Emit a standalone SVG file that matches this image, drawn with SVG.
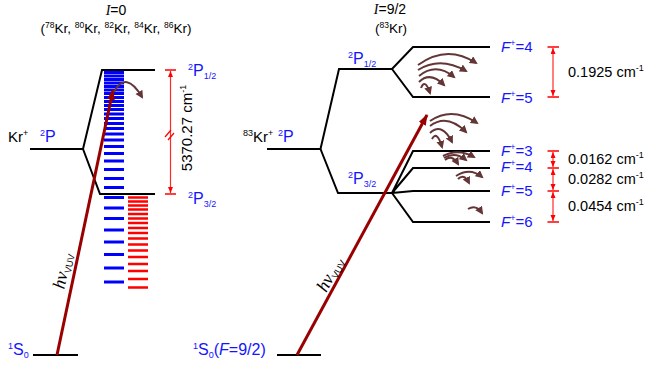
<svg xmlns="http://www.w3.org/2000/svg" width="648" height="368" viewBox="0 0 648 368">
<defs>
<style>
text{font-family:"Liberation Sans",Arial,sans-serif;}
.blk{fill:#000;}
.blu{fill:#1414ff;}
.lvl{stroke:#000;stroke-width:2;fill:none;}
.bl{stroke:#0000ff;stroke-width:3;}
.rd{stroke:#ff0000;stroke-width:2.5;}
.dim{stroke:#ff2a2a;stroke-width:1.2;fill:none;marker-start:url(#rh);marker-end:url(#rh);}
.bar{stroke:#ff0000;stroke-width:1.6;}
.las{stroke:#990000;stroke-width:3;fill:none;marker-end:url(#lh);}
.arc{stroke:#633535;stroke-width:2;fill:none;marker-end:url(#ah);}
</style>
<marker id="rh" markerUnits="userSpaceOnUse" markerWidth="7" markerHeight="6" refX="6" refY="2.5" orient="auto-start-reverse"><path d="M0,0 L6,2.5 L0,5 z" fill="#ff0000"/></marker>
<marker id="lh" markerUnits="userSpaceOnUse" markerWidth="12" markerHeight="10" refX="10" refY="4" orient="auto"><path d="M0,0 L11,4 L0,8 z" fill="#990000"/></marker>
<marker id="ah" markerUnits="userSpaceOnUse" markerWidth="10" markerHeight="9" refX="6" refY="4" orient="auto"><path d="M0,0 L8,4 L0,8 z" fill="#633535"/></marker>
</defs>
<rect width="648" height="368" fill="#fff"/>

<!-- headers -->
<g id="hdr-left">
<text x="116" y="15" text-anchor="middle" font-size="14" class="blk"><tspan font-family="Liberation Serif" font-style="italic">I</tspan>=0</text>
<text x="116" y="33" text-anchor="middle" font-size="13.5" class="blk">(<tspan font-size="8.5" dy="-5">78</tspan><tspan dy="5">Kr, </tspan><tspan font-size="8.5" dy="-5">80</tspan><tspan dy="5">Kr, </tspan><tspan font-size="8.5" dy="-5">82</tspan><tspan dy="5">Kr, </tspan><tspan font-size="8.5" dy="-5">84</tspan><tspan dy="5">Kr, </tspan><tspan font-size="8.5" dy="-5">86</tspan><tspan dy="5">Kr)</tspan></text>
</g>
<g id="hdr-right">
<text x="390" y="14" text-anchor="middle" font-size="14" class="blk"><tspan font-family="Liberation Serif" font-style="italic">I</tspan>=9/2</text>
<text x="391" y="33" text-anchor="middle" font-size="13.5" class="blk">(<tspan font-size="8.5" dy="-5">83</tspan><tspan dy="5">Kr)</tspan></text>
</g>

<!-- left levels -->
<g id="left-levels">
<path class="lvl" d="M30,149 H83 L102,70 H155 M83,149 L100,194 H155"/>
<path class="lvl" d="M33,355 H78"/>
<text x="8" y="142" font-size="15" class="blk">Kr<tspan font-size="9" dy="-6">+</tspan></text>
<text x="40" y="142" font-size="16" class="blu"><tspan font-size="9" dy="-6">2</tspan><tspan dy="6">P</tspan></text>
<text x="188" y="76" font-size="16" class="blu"><tspan font-size="9" dy="-6">2</tspan><tspan dy="6">P</tspan><tspan font-size="9" dy="3">1/2</tspan></text>
<text x="188" y="204" font-size="16" class="blu"><tspan font-size="9" dy="-6">2</tspan><tspan dy="6">P</tspan><tspan font-size="9" dy="3">3/2</tspan></text>
<text x="8" y="355" font-size="16" class="blu"><tspan font-size="9" dy="-6">1</tspan><tspan dy="6">S</tspan><tspan font-size="9" dy="3">0</tspan></text>
</g>

<g id="blue-ladder">
<path class="bl" d="M104,72.5H124M104,76H124M104,79.5H124M104,83H124M104,86.5H124M104,90H124M104,93.5H124M104,97.5H124M104,101.5H124M104,105.5H124M104,109.5H124M104,114H124M104,118.5H124M104,123.5H124M104,128.5H124M104,134H124M104,140H124M104,146.5H124M104,153.5H124M104,161H124M104,169.5H124M104,178.5H124M104,187.5H124M104,197.5H124M104,208H124M104,218.5H124M104,230H124M104,242H124M104,254.5H124M104,268H124M104,282H124"/>
</g>
<g id="red-ladder">
<path class="rd" d="M128,197.5H148M128,201.5H148M128,205.5H148M128,209.5H148M128,214H148M128,218.5H148M128,223H148M128,228H148M128,233H148M128,238.5H148M128,244.5H148M128,250.5H148M128,257H148M128,264H148M128,271H148M128,279H148M128,287.5H148"/>
</g>

<g id="left-dim">
<path class="bar" d="M165,70H176M165,194H176"/>
<path class="dim" d="M170.5,71V193"/>
<path stroke="#ff0000" stroke-width="1.2" d="M165,137L171,130M168,140L174,133"/>
<text transform="translate(192,128) rotate(-90)" text-anchor="middle" font-size="15" class="blk">5370.27 cm<tspan font-size="9" dy="-6">-1</tspan></text>
</g>

<!-- right levels -->
<g id="right-levels">
<path class="lvl" d="M267,149 H320.5 L339,69 H392 L413,47 H490 M392,69 L413,97 H490"/>
<path class="lvl" d="M320.5,149 L338,193 H392 L413,151 H490 M392,193 L413,168 H490 M392,193 L413,191 H490 M392,193 L413,222 H490"/>
<path class="lvl" d="M277,355 H321"/>
<text x="243" y="142" font-size="15" class="blk"><tspan font-size="9" dy="-6">83</tspan><tspan dy="6">Kr</tspan><tspan font-size="9" dy="-6">+</tspan></text>
<text x="278" y="142" font-size="16" class="blu"><tspan font-size="9" dy="-6">2</tspan><tspan dy="6">P</tspan></text>
<text x="348" y="64" font-size="16" class="blu"><tspan font-size="9" dy="-6">2</tspan><tspan dy="6">P</tspan><tspan font-size="9" dy="3">1/2</tspan></text>
<text x="348" y="184" font-size="16" class="blu"><tspan font-size="9" dy="-6">2</tspan><tspan dy="6">P</tspan><tspan font-size="9" dy="3">3/2</tspan></text>
<text x="193" y="355" font-size="16" class="blu"><tspan font-size="9" dy="-6">1</tspan><tspan dy="6">S</tspan><tspan font-size="9" dy="3">0</tspan><tspan dy="-3">(</tspan><tspan font-style="italic">F</tspan>=9/2)</text>
</g>

<g id="F-labels" font-size="15">
<text x="501" y="52" class="blu"><tspan font-style="italic">F</tspan><tspan font-size="9" dy="-6">+</tspan><tspan dy="6">=4</tspan></text>
<text x="501" y="103" class="blu"><tspan font-style="italic">F</tspan><tspan font-size="9" dy="-6">+</tspan><tspan dy="6">=5</tspan></text>
<text x="501" y="156" class="blu"><tspan font-style="italic">F</tspan><tspan font-size="9" dy="-6">+</tspan><tspan dy="6">=3</tspan></text>
<text x="501" y="172" class="blu"><tspan font-style="italic">F</tspan><tspan font-size="9" dy="-6">+</tspan><tspan dy="6">=4</tspan></text>
<text x="501" y="196" class="blu"><tspan font-style="italic">F</tspan><tspan font-size="9" dy="-6">+</tspan><tspan dy="6">=5</tspan></text>
<text x="501" y="227" class="blu"><tspan font-style="italic">F</tspan><tspan font-size="9" dy="-6">+</tspan><tspan dy="6">=6</tspan></text>
</g>

<g id="right-dims">
<path class="bar" d="M547.5,47H559M547.5,97H559M547.5,151H559M547.5,168H559M547.5,191H559M547.5,222H559"/>
<path class="dim" d="M553,48V96"/>
<path class="dim" d="M553,152V167"/>
<path class="dim" d="M553,169V190"/>
<path class="dim" d="M553,192V221"/>
<text x="568" y="77" font-size="14.5" class="blk">0.1925 cm<tspan font-size="9" dy="-6">-1</tspan></text>
<text x="568" y="164" font-size="14.5" class="blk">0.0162 cm<tspan font-size="9" dy="-6">-1</tspan></text>
<text x="568" y="184" font-size="14.5" class="blk">0.0282 cm<tspan font-size="9" dy="-6">-1</tspan></text>
<text x="568" y="211" font-size="14.5" class="blk">0.0454 cm<tspan font-size="9" dy="-6">-1</tspan></text>
</g>

<!-- connectors -->
<g id="connectors">
<path class="las" d="M57,355 L113,90"/>
<path class="las" d="M297,355 L427,115"/>
<path class="arc" d="M114,92 Q126,70 142,97"/>
<path class="arc" d="M418,65 Q447,44 476,63"/>
<path class="arc" d="M418,70 Q440,56 466,71"/>
<path class="arc" d="M419,76 Q436,62 454,77"/>
<path class="arc" d="M419,82 Q430,71 444,85"/>
<path class="arc" d="M421,88 Q425,78 430,93"/>
<path class="arc" d="M430,121 Q452,106 477,123"/>
<path class="arc" d="M430,126 Q447,113 466,132"/>
<path class="arc" d="M430,133 Q442,122 452,142"/>
<path class="arc" d="M432,139 Q437,130 442,147"/>
<path class="arc" d="M443,156 Q458,148 474,157"/>
<path class="arc" d="M444,158 Q455,151 466,160"/>
<path class="arc" d="M445,160 Q452,154 458,164"/>
<path class="arc" d="M456,176 Q470,167 482,177"/>
<path class="arc" d="M458,179 Q464,173 469,183"/>
<path class="arc" d="M468,209 Q476,204 482,213"/>
</g>
<g id="laser-labels" font-size="14">
<text transform="translate(68,272) rotate(-78)" text-anchor="middle" class="blk"><tspan font-family="Liberation Serif" font-style="italic" font-size="18">hν</tspan><tspan font-size="9.5" dy="3">VUV</tspan></text>
<text transform="translate(335,277) rotate(-61.5)" text-anchor="middle" class="blk"><tspan font-family="Liberation Serif" font-style="italic" font-size="18">hν</tspan><tspan font-size="9.5" dy="3">VUV</tspan></text>
</g>
</svg>
